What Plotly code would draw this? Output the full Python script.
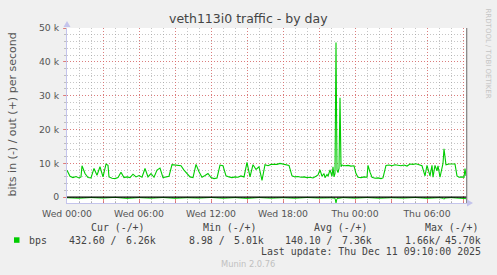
import pandas as pd
import plotly.graph_objects as go

# ---- data (minutes after Wed 2025-12-10 00:00, values in bits/s) ----
out_minutes = [0, 10, 15, 30, 45, 60, 70, 75, 90, 105, 120, 135, 150, 165, 180, 195, 205, 210, 225, 240,
               255, 270, 285, 300, 315, 330, 345, 360, 375, 390, 405, 420, 435, 450, 465, 480, 495, 510, 525, 540,
               555, 570, 585, 600, 615, 630, 645, 660, 675, 690, 705, 720, 735, 750, 765, 780, 795, 810, 825, 840,
               855, 870, 885, 900, 915, 930, 945, 960, 975, 990, 1005, 1020, 1035, 1050, 1065, 1080, 1095, 1110, 1125, 1140,
               1155, 1170, 1185, 1200, 1215, 1230, 1245, 1255, 1265, 1275, 1285, 1290, 1300, 1305, 1315, 1325, 1330, 1335, 1340, 1345,
               1350, 1355, 1360, 1365, 1370, 1375, 1390, 1405, 1420, 1435, 1445, 1455, 1470, 1485, 1500, 1505, 1515, 1525, 1540, 1555,
               1570, 1580, 1585, 1595, 1610, 1625, 1640, 1655, 1670, 1685, 1700, 1715, 1730, 1745, 1760, 1775, 1790, 1800, 1815, 1825,
               1830, 1840, 1850, 1855, 1865, 1875, 1880, 1885, 1895, 1910, 1925, 1940, 1950, 1960, 1975, 1985, 1990, 1995]
out_k = [8.0, 6.8, 6.2, 5.8, 6.1, 5.7, 6.0, 9.3, 7.0, 5.8, 5.7, 8.5, 6.5, 9.0, 6.0, 9.8, 9.4, 6.0, 5.6, 5.5,
         5.8, 7.4, 5.8, 6.0, 5.8, 6.8, 6.0, 6.4, 5.9, 8.5, 6.0, 7.0, 5.9, 8.0, 8.6, 5.8, 6.0, 6.2, 9.6, 9.5,
         9.6, 9.3, 8.0, 7.0, 6.0, 5.8, 9.7, 7.5, 5.9, 6.4, 7.0, 5.8, 5.5, 5.7, 9.5, 9.3, 6.3, 6.0, 5.8, 6.0,
         5.9, 6.3, 6.0, 10.3, 6.0, 9.6, 8.2, 9.0, 5.0, 9.6, 9.3, 9.7, 9.6, 9.7, 10.0, 9.8, 9.5, 9.4, 6.3, 6.0,
         6.1, 5.9, 6.0, 5.8, 5.9, 5.7, 6.2, 6.6, 8.1, 6.2, 7.0, 5.8, 6.7, 6.2, 8.1, 6.2, 9.0, 6.0, 7.0, 45.7,
         8.0, 7.3, 8.5, 29.4, 9.0, 9.5, 9.3, 9.4, 9.2, 9.3, 7.0, 5.9, 5.8, 6.0, 5.9, 9.4, 7.4, 5.9, 5.6, 5.7,
         5.5, 5.7, 7.0, 9.4, 9.5, 9.3, 9.6, 9.4, 9.3, 9.5, 9.2, 9.8, 9.7, 9.9, 9.7, 9.3, 6.3, 9.4, 6.3, 9.4,
         5.9, 9.4, 7.8, 9.3, 5.9, 8.6, 10.0, 14.3, 9.6, 9.8, 9.7, 9.8, 6.3, 5.9, 6.0, 5.9, 8.5, 6.26]

in_minutes = [0, 60, 120, 180, 240, 300, 360, 420, 480, 540, 600, 660, 720, 780, 840, 900, 960, 1020, 1080,
              1140, 1200, 1260, 1320, 1340, 1345, 1350, 1380, 1440, 1500, 1560, 1620, 1680, 1740, 1800, 1860,
              1880, 1885, 1890, 1920, 1980, 1995]
in_k = [-0.15, -0.30, -0.10, -0.25, -0.05, -0.35, -0.12, -0.28, -0.09, -0.32, -0.15, -0.26, -0.08, -0.30,
        -0.12, -0.35, -0.10, -0.28, -0.14, -0.30, -0.09, -0.25, -0.18, -0.30, -1.66, -0.40, -0.12, -0.28,
        -0.10, -0.30, -0.15, -0.26, -0.09, -0.32, -0.14, -0.30, -0.60, -0.25, -0.12, -0.30, -0.43]

y_tick_vals = [0, 10000, 20000, 30000, 40000, 50000]
y_tick_text = ["0", "10 k", "20 k", "30 k", "40 k", "50 k"]
x_tick_vals = ["2025-12-10 00:00", "2025-12-10 03:00", "2025-12-10 06:00", "2025-12-10 09:00",
               "2025-12-10 12:00", "2025-12-10 15:00", "2025-12-10 18:00", "2025-12-10 21:00",
               "2025-12-11 00:00", "2025-12-11 03:00", "2025-12-11 06:00", "2025-12-11 09:00"]
x_tick_text = ["Wed 00:00", "", "Wed 06:00", "", "Wed 12:00", "", "Wed 18:00", "",
               "Thu 00:00", "", "Thu 06:00", ""]

# ---- layout geometry ----
W, H = 497, 275
L, R, T, B = 67, 30, 28, 72
PW, PH = W - L - R, H - T - B

def px(x):
    return (x - L) / PW

def py(y):
    return (H - B - y) / PH

GREEN = "#00CC00"
base = pd.Timestamp("2025-12-10 00:00")
out_x = base + pd.to_timedelta(out_minutes, unit="min")
in_x = base + pd.to_timedelta(in_minutes, unit="min")

fig = go.Figure()
fig.add_trace(go.Scatter(x=in_x, y=[v * 1000 for v in in_k], mode="lines",
                         line=dict(color=GREEN, width=1), hoverinfo="skip", showlegend=False))
fig.add_trace(go.Scatter(x=out_x, y=[v * 1000 for v in out_k], mode="lines",
                         line=dict(color=GREEN, width=1.1), hoverinfo="skip", showlegend=False))

MAJ = "rgba(225,100,100,0.75)"
MIN = "rgba(150,150,150,0.55)"
AX = "#C4C4EC"

fig.update_xaxes(
    type="date", range=["2025-12-10 00:00", "2025-12-11 09:20"],
    tickvals=x_tick_vals, ticktext=x_tick_text,
    showgrid=True, gridcolor=MAJ, griddash="1px,2px", gridwidth=1,
    ticks="inside", ticklen=3, tickcolor=MAJ,
    minor=dict(dtick=3600000, showgrid=True, gridcolor=MIN, griddash="1px,2px",
               ticks="inside", ticklen=2, tickcolor=MIN),
    showline=True, linecolor=AX, linewidth=1,
    tickfont=dict(family="DejaVu Sans", size=9.3, color="#555"),
    zeroline=False, ticklabelstandoff=2,
)
fig.update_yaxes(
    range=[-1710, 50000],
    tickvals=y_tick_vals, ticktext=y_tick_text,
    showgrid=True, gridcolor=MAJ, griddash="1px,2px", gridwidth=1,
    ticks="outside", ticklen=3, tickcolor=MAJ,
    minor=dict(dtick=2000, showgrid=True, gridcolor=MIN, griddash="1px,2px",
               ticks="outside", ticklen=2, tickcolor=MIN),
    showline=True, linecolor=AX, linewidth=1,
    tickfont=dict(family="DejaVu Sans", size=9.3, color="#555"),
    zeroline=False, ticklabelstandoff=2,
)

shapes = [
    # zero rule
    dict(type="line", xref="paper", yref="y", x0=0, x1=1, y0=0, y1=0,
         line=dict(color="black", width=1.2), layer="above"),
    # right frame line
    dict(type="line", xref="paper", yref="paper", x0=px(466.7), x1=px(466.7), y0=0, y1=1,
         line=dict(color="#808080", width=1.2), layer="above"),
    # axis arrows
    dict(type="path", xref="paper", yref="paper",
         path=f"M {px(63.5)},{py(27)} L {px(67)},{py(21)} L {px(70.5)},{py(27)} Z",
         fillcolor=AX, line=dict(width=0), layer="above"),
    dict(type="path", xref="paper", yref="paper",
         path=f"M {px(467)},{py(199.5)} L {px(473)},{py(203)} L {px(467)},{py(206.5)} Z",
         fillcolor=AX, line=dict(width=0), layer="above"),
    # legend swatch
    dict(type="rect", xref="paper", yref="paper", x0=px(14), x1=px(19.5), y0=py(242.8), y1=py(237.3),
         fillcolor=GREEN, line=dict(width=0)),
]

MONO = "DejaVu Sans Mono"
annots = []

def ann(text, x, y, xanchor="left", size=9.9, color="#444", family=MONO, angle=0):
    annots.append(dict(text=text, x=px(x), y=py(y), xref="paper", yref="paper",
                       xanchor=xanchor, yanchor="middle", showarrow=False, textangle=angle,
                       font=dict(family=family, size=size, color=color)))

ann("veth113i0 traffic - by day", 248.5, 18.5, "center", 12.5, "#444", "DejaVu Sans")
ann("bits in (-) / out (+) per second", 11.5, 115, "center", 11, "#555", "DejaVu Sans", -90)
ann("RRDTOOL / TOBI OETIKER", 487.5, 53, "center", 7, "#C4C4C4", "DejaVu Sans", 90)

ann("Cur (-/+)", 89.3, 227.7)
ann("Min (-/+)", 200.7, 227.7)
ann("Avg (-/+)", 311.7, 227.7)
ann("Max (-/+)", 422.7, 227.7)

ann("bps", 26.7, 240)
ann("432.60 /", 66.7, 240)
ann("6.26k", 157.5, 240, "right")
ann("8.98 /", 186.7, 240)
ann("5.01k", 265.7, 240, "right")
ann("140.10 /", 283.3, 240)
ann("7.36k", 374, 240, "right")
ann("1.66k/", 403.3, 240)
ann("45.70k", 482.7, 240, "right")
ann("Last update: Thu Dec 11 09:10:00 2025", 482.7, 251.7, "right")
ann("Munin 2.0.76", 248, 264, "center", 8.3, "#C0C0C0", "DejaVu Sans")

fig.update_layout(
    width=W, height=H, margin=dict(l=L, r=R, t=T, b=B, pad=0),
    paper_bgcolor="#F0F0F0", plot_bgcolor="white",
    shapes=shapes, annotations=annots, showlegend=False,
)

fig.write_html("out.html")
